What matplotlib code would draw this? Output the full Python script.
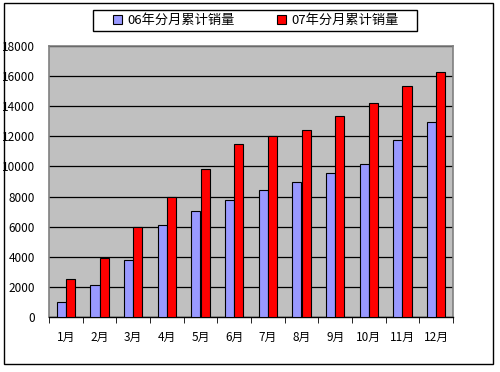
import matplotlib
matplotlib.use("Agg")
import matplotlib.pyplot as plt
import numpy as np
from matplotlib.patches import Rectangle

plt.rcParams['font.family'] = ['Noto Sans CJK SC', 'DejaVu Sans']

months = ["1月", "2月", "3月", "4月", "5月", "6月", "7月", "8月", "9月", "10月", "11月", "12月"]
sales_06 = [1000, 2150, 3800, 6100, 7050, 7800, 8450, 8950, 9580, 10150, 11750, 12950]
sales_07 = [2550, 3950, 6000, 8000, 9850, 11500, 12000, 12450, 13350, 14200, 15350, 16300]
series_names = ["06年分月累计销量", "07年分月累计销量"]
yticks = [0, 2000, 4000, 6000, 8000, 10000, 12000, 14000, 16000, 18000]

W, H = 500, 372
fig = plt.figure(figsize=(W / 100, H / 100), dpi=100)
fig.patch.set_facecolor("white")

# outer chart frame
fig.patches.append(Rectangle((4 / W, 1 - 364 / H), (493 - 4) / W, (364 - 3) / H,
                             transform=fig.transFigure, fill=False,
                             edgecolor="black", linewidth=1.0))
# legend frame
fig.patches.append(Rectangle((93 / W, 1 - 31 / H), (417 - 93) / W, (31 - 10) / H,
                             transform=fig.transFigure, fill=False,
                             edgecolor="black", linewidth=1.0))

ax = fig.add_axes([49 / W, 1 - 317 / H, 404 / W, 271 / H])
ax.set_facecolor("#C0C0C0")

x = np.arange(len(months))
bw = 0.27
ax.bar(x - bw / 2, sales_06, width=bw, color="#9999FF", edgecolor="black",
       linewidth=0.8, label=series_names[0], zorder=3)
ax.bar(x + bw / 2, sales_07, width=bw, color="#FF0000", edgecolor="black",
       linewidth=0.8, label=series_names[1], zorder=3)

ax.set_xlim(-0.5, len(months) - 0.5)
ax.set_ylim(0, 18000)
ax.set_yticks(yticks)
ax.set_yticklabels([str(v) for v in yticks], fontsize=8.5)
ax.yaxis.grid(True, color="black", linewidth=0.9, zorder=1)
ax.tick_params(axis="y", length=0, pad=10)

ax.set_xticks(x)
ax.set_xticklabels(months, fontsize=8.5)
ax.set_xticks(np.arange(-0.5, len(months)), minor=True)
ax.tick_params(axis="x", which="major", length=0, pad=10)
ax.tick_params(axis="x", which="minor", length=4, direction="out", color="black")

for s in ["top", "right", "left"]:
    ax.spines[s].set_color("#808080")
    ax.spines[s].set_linewidth(1.2)
ax.spines["bottom"].set_color("black")
ax.spines["bottom"].set_linewidth(1.0)

leg = fig.legend(loc="center", bbox_to_anchor=(256 / W, 1 - 20.5 / H), ncol=2,
                 fontsize=9.5, frameon=False,
                 handlelength=0.7, handleheight=0.7, handletextpad=0.4,
                 columnspacing=3.2, borderpad=0.3, borderaxespad=0)

fig.savefig("out.png", dpi=100)
